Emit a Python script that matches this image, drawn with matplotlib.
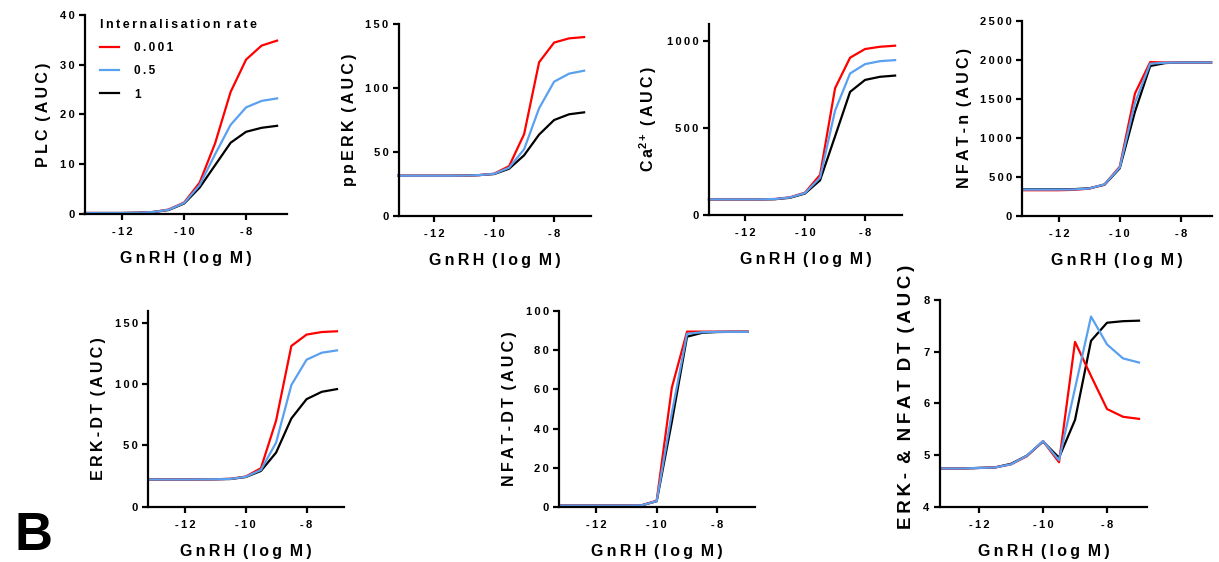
import matplotlib

matplotlib.use("Agg")
import matplotlib.pyplot as plt

# GnRH dose (log M) used for every panel
log_gnrh = [-13.2, -12.5, -12, -11.5, -11, -10.5, -10, -9.5, -9, -8.5, -8, -7.5, -7]

rate_labels = ["0.001", "0.5", "1"]

# AUC responses, one list per internalisation rate (0.001, 0.5, 1)
plc_001 = [0.2, 0.2, 0.2, 0.25, 0.4, 0.9, 2.3, 6.3, 14.2, 24.5, 31.0, 33.8, 34.8]
plc_05 = [0.2, 0.2, 0.2, 0.25, 0.4, 0.85, 2.2, 5.8, 12.0, 17.9, 21.4, 22.7, 23.2]
plc_1 = [0.2, 0.2, 0.2, 0.25, 0.4, 0.8, 2.1, 5.3, 9.8, 14.3, 16.5, 17.3, 17.7]

pperk_001 = [31.5, 31.5, 31.5, 31.5, 31.6, 32.0, 33.1, 39.0, 64.0, 120.3, 135.7, 139.0, 140.0]
pperk_05 = [31.5, 31.5, 31.5, 31.5, 31.6, 32.0, 33.0, 37.8, 52.2, 84.3, 105.1, 111.4, 113.7]
pperk_1 = [31.5, 31.5, 31.5, 31.5, 31.6, 32.0, 32.8, 37.0, 47.5, 63.7, 75.1, 79.6, 81.1]

ca_001 = [90, 90, 90, 90, 92, 102, 129, 231, 730, 906, 956, 969, 975]
ca_05 = [90, 90, 90, 90, 92, 101, 127, 215, 601, 815, 869, 886, 892]
ca_1 = [90, 90, 90, 90, 91, 99, 124, 200, 453, 709, 778, 796, 803]

nfatn_001 = [330, 330, 330, 335, 350, 405, 631, 1569, 1970, 1965, 1965, 1965, 1965]
nfatn_05 = [338, 338, 338, 340, 352, 405, 620, 1450, 1950, 1962, 1965, 1965, 1965]
nfatn_1 = [342, 342, 342, 344, 355, 400, 610, 1335, 1920, 1958, 1965, 1965, 1965]

erkdt_001 = [22.2, 22.2, 22.2, 22.3, 22.4, 22.8, 24.6, 31.4, 70.4, 131.2, 140.5, 142.6, 143.2]
erkdt_05 = [22.2, 22.2, 22.2, 22.3, 22.4, 22.7, 24.4, 30.0, 52.4, 99.3, 120.0, 125.7, 127.6]
erkdt_1 = [22.2, 22.2, 22.2, 22.3, 22.4, 22.6, 24.2, 29.2, 44.2, 72.0, 87.8, 93.8, 96.0]

nfatdt_001 = [0.6, 0.6, 0.6, 0.6, 0.6, 0.7, 3.1, 61.0, 89.6, 89.6, 89.6, 89.6, 89.6]
nfatdt_05 = [0.6, 0.6, 0.6, 0.6, 0.6, 0.7, 2.9, 48.0, 88.5, 89.3, 89.5, 89.5, 89.5]
nfatdt_1 = [0.6, 0.6, 0.6, 0.6, 0.6, 0.7, 2.8, 43.5, 87.0, 89.0, 89.4, 89.5, 89.5]

both_001 = [4.74, 4.74, 4.75, 4.76, 4.82, 4.98, 5.27, 4.86, 7.19, 6.53, 5.89, 5.74, 5.70]
both_05 = [4.74, 4.74, 4.75, 4.76, 4.82, 4.99, 5.27, 4.90, 6.29, 7.68, 7.14, 6.87, 6.79]
both_1 = [4.74, 4.74, 4.75, 4.76, 4.83, 4.99, 5.26, 4.95, 5.68, 7.21, 7.56, 7.59, 7.60]

x_ticks = [-12, -10, -8]

W, H = 1219, 562
THIN = "\u2009"

plt.rcParams["font.family"] = ["Liberation Sans", "DejaVu Sans"]
plt.rcParams["font.weight"] = "bold"
plt.rcParams["mathtext.fontset"] = "custom"
plt.rcParams["mathtext.rm"] = "Liberation Sans:bold"
plt.rcParams["mathtext.bf"] = "Liberation Sans:bold"


def spaced(text):
    # Prism-like letter tracking: thin space between every character
    return THIN.join(text)


def words(*parts):
    # tracked words joined by a wide gap
    return (" " + THIN).join(spaced(p) for p in parts)


def px_rect(left, top, right, bottom):
    # pixel box (from top-left) -> figure fraction rect
    return [left / W, 1 - bottom / H, (right - left) / W, (bottom - top) / H]


def draw_panel(fig, rect, xlim, ylim, yticks, ylabel, series, ylabel_size=11.5):
    ax = fig.add_axes(rect)
    red, blue, black = series
    # draw black first so the blue curve sits on top
    ax.plot(log_gnrh, black, color="black", lw=1.6, label=rate_labels[2], clip_on=False)
    ax.plot(log_gnrh, red, color="#ff0000", lw=1.6, label=rate_labels[0], clip_on=False)
    ax.plot(log_gnrh, blue, color="#5aa0f0", lw=1.6, label=rate_labels[1], clip_on=False)

    ax.set_xlim(*xlim)
    ax.set_ylim(*ylim)
    ax.set_xticks(x_ticks)
    ax.set_xticklabels([spaced(str(t)) for t in x_ticks])
    ax.set_yticks(yticks)
    ax.set_yticklabels([spaced(f"{t:g}") for t in yticks])

    for side in ["top", "right"]:
        ax.spines[side].set_visible(False)
    for side in ["left", "bottom"]:
        ax.spines[side].set_linewidth(1.6)
    ax.tick_params(direction="out", length=4.5, width=1.6, labelsize=8, pad=3)
    ax.tick_params(axis="x", pad=5)

    ax.set_xlabel(words("GnRH", "(log", "M)"), fontsize=11.5, fontweight="bold", labelpad=10)
    ax.set_ylabel(ylabel, fontsize=ylabel_size, fontweight="bold", labelpad=6)
    return ax


def main():
    fig = plt.figure(figsize=(W / 100, H / 100), dpi=100)

    ax1 = draw_panel(fig, px_rect(85, 14.7, 287, 214), (-13.2, -6.68), (0, 40),
                     [0, 10, 20, 30, 40], words("PLC", "(AUC)"),
                     (plc_001, plc_05, plc_1))
    draw_panel(fig, px_rect(399, 24.3, 590.7, 216), (-13.17, -6.78), (0, 150),
               [0, 50, 100, 150], words("ppERK", "(AUC)"),
               (pperk_001, pperk_05, pperk_1))
    draw_panel(fig, px_rect(709, 24, 901.7, 215), (-13.2, -6.78), (0, 1100),
               [0, 500, 1000],
               spaced("Ca") + r"$^{\mathbf{2}\,\mathbf{+}}$" + " " + THIN + spaced("(AUC)"),
               (ca_001, ca_05, ca_1))
    draw_panel(fig, px_rect(1022.3, 20.7, 1211.7, 216), (-13.2, -6.98), (0, 2500),
               [0, 500, 1000, 1500, 2000, 2500], words("NFAT-n", "(AUC)"),
               (nfatn_001, nfatn_05, nfatn_1))
    draw_panel(fig, px_rect(148.3, 310.7, 344, 506.7), (-13.2, -6.77), (0, 160),
               [0, 50, 100, 150], words("ERK-DT", "(AUC)"),
               (erkdt_001, erkdt_05, erkdt_1))
    draw_panel(fig, px_rect(559.3, 311.3, 755.3, 506.7), (-13.21, -6.75), (0, 100),
               [0, 20, 40, 60, 80, 100], words("NFAT-DT", "(AUC)"),
               (nfatdt_001, nfatdt_05, nfatdt_1))
    ax7 = draw_panel(fig, px_rect(940, 300, 1146.7, 506.7), (-13.22, -6.76), (4, 8),
                     [4, 5, 6, 7, 8], words("ERK-", "&", "NFAT", "DT", "(AUC)"),
                     (both_001, both_05, both_1), ylabel_size=13.5)
    # long label sits a little above the axis centre
    ax7.yaxis.label.set_y(0.53)

    # legend in red, blue, black order
    handles, labels = ax1.get_legend_handles_labels()
    order = [1, 2, 0]
    leg = ax1.legend([handles[i] for i in order], [spaced(labels[i]) for i in order],
                     title=words("Internalisation", "rate"),
                     loc="upper left", bbox_to_anchor=(94 / W, 1 - 13 / H),
                     bbox_transform=fig.transFigure, frameon=False, borderpad=0,
                     fontsize=8.5, title_fontsize=9, handlelength=1.6,
                     handletextpad=1.3, labelspacing=0.95, alignment="left")
    leg.get_title().set_fontweight("bold")
    for txt in leg.get_texts():
        txt.set_fontweight("bold")

    fig.text(15 / W, 0.002, "B", fontsize=38, fontweight="bold",
             ha="left", va="bottom")

    fig.savefig("out.png", dpi=100)


if __name__ == "__main__":
    main()
